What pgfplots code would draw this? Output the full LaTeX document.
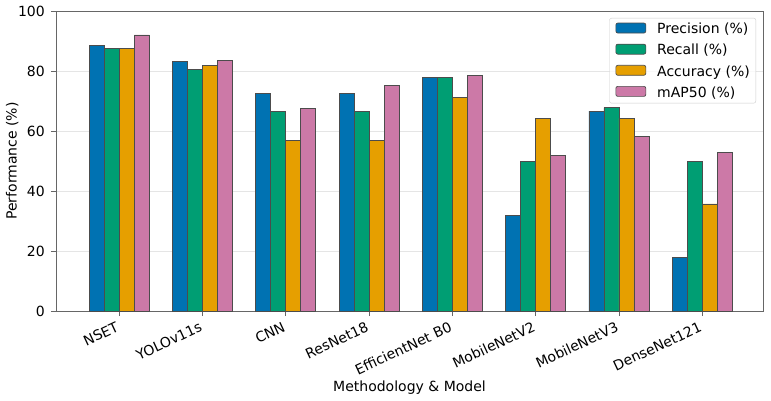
\documentclass[border=0pt]{standalone}
\usepackage{fontspec}
\setmainfont{DejaVu Sans}
\usepackage{pgfplots}
\usepackage{pgfplotstable}
\pgfplotsset{compat=1.18}

\definecolor{cPrec}{HTML}{0072B2}
\definecolor{cRec}{HTML}{009E73}
\definecolor{cAcc}{HTML}{E69F00}
\definecolor{cMap}{HTML}{CC79A7}
\newcommand{\fs}{\fontsize{14bp}{16.8bp}\selectfont}

% Scores per model (%), one row per model
\pgfplotstableread{
idx prec rec acc map
0   88.4 87.4 87.4 92.0
1   83.2 80.6 81.9 83.4
2   72.6 66.6 56.9 67.6
3   72.6 66.6 56.9 75.2
4   77.8 77.8 71.2 78.6
5   31.9 49.9 64.2 51.8
6   66.6 67.8 64.2 58.1
7   17.8 49.9 35.7 52.9
}\scores

% legend patch: 30 x 10 box, followed by a gap before the entry text
\pgfplotsset{patchlegend/.style={
  legend image code/.code={
    \draw[##1, fill opacity=1, draw opacity=1] (0bp,-3.8bp) rectangle (30bp,6.2bp);
    \path (41bp,0bp);
  }}}

\begin{document}
\begin{tikzpicture}
\path[use as bounding box] (-56bp,-90bp) rectangle (715bp,311bp);
\begin{axis}[
  at={(0,0)}, anchor=south west,
  scale only axis, width=707bp, height=300bp,
  ybar=0pt, bar width=15bp,
  xmin=-0.76, xmax=7.73, ymin=0, ymax=100,
  xtick={0,...,7},
  xticklabels={NSET,YOLOv11s,CNN,ResNet18,EfficientNet B0,MobileNetV2,MobileNetV3,DenseNet121},
  ytick={0,20,...,100},
  /pgf/number format/assume math mode=true,
  tick align=outside, major tick length=5bp, tick pos=left,
  ymajorgrids, grid style={draw=black!10, line width=0.6bp},
  axis line style={draw=black!60, line width=0.8bp},
  tick style={draw=black!60, line width=0.8bp},
  every tick label/.append style={font=\fs},
  yticklabel style={anchor=east, inner sep=0pt, xshift=-6bp},
  xticklabel style={rotate=25, anchor=north east, inner sep=0pt, xshift=-5.7bp, yshift=-3bp},
  xlabel={Methodology \& Model},
  ylabel={Performance (\%)},
  every axis x label/.style={at={(axis description cs:0.5,0)}, yshift=-80bp, anchor=base, font=\fs},
  every axis y label/.style={at={(axis description cs:-0.062,0.5)}, rotate=90, anchor=center, font=\fs},
  legend cell align=left,
  legend style={at={(axis description cs:1,1)}, xshift=-7bp, yshift=-7bp, anchor=north east,
    draw=black!20, rounded corners=2bp, fill=white, fill opacity=0.8, text opacity=1,
    font=\fs, inner xsep=6bp, inner ysep=4.5bp, row sep=8.5bp,
    nodes={inner sep=0pt}},
  every axis plot/.append style={draw=black!70, line width=0.7bp},
]
\addplot[fill=cPrec, patchlegend] table[x=idx, y=prec] {\scores};
\addlegendentry{Precision (\%)}
\addplot[fill=cRec, patchlegend] table[x=idx, y=rec] {\scores};
\addlegendentry{Recall (\%)}
\addplot[fill=cAcc, patchlegend] table[x=idx, y=acc] {\scores};
\addlegendentry{Accuracy (\%)}
\addplot[fill=cMap, patchlegend] table[x=idx, y=map] {\scores};
\addlegendentry{mAP50 (\%)}
\end{axis}
\end{tikzpicture}
\end{document}
